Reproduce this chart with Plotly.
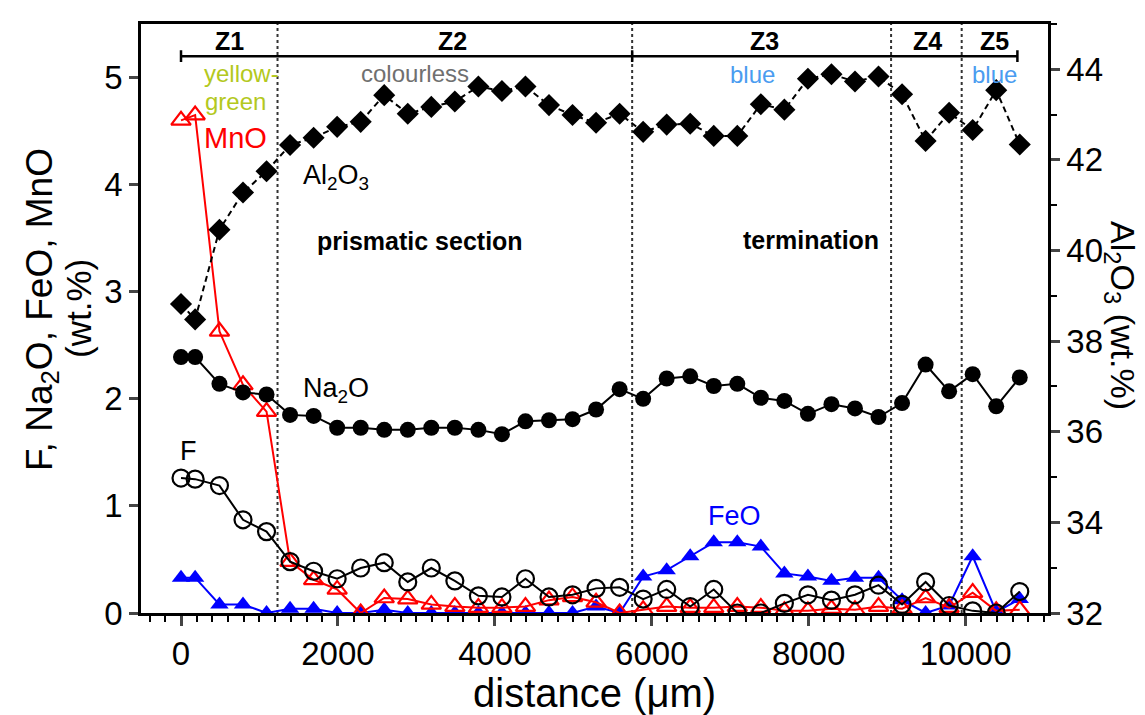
import plotly.graph_objects as go

# ---- data ----
distance = [0, 180, 490, 790, 1090, 1390, 1690, 1990, 2290, 2590, 2890, 3190, 3490,
            3790, 4090, 4390, 4690, 4990, 5290, 5590, 5890, 6190, 6490, 6790, 7090,
            7390, 7690, 7990, 8290, 8590, 8890, 9190, 9490, 9790, 10090, 10390, 10690]

na2o = [2.39, 2.39, 2.14, 2.06, 2.04, 1.85, 1.84, 1.73, 1.73, 1.71, 1.71, 1.73, 1.73,
        1.71, 1.67, 1.79, 1.80, 1.81, 1.90, 2.09, 2.00, 2.19, 2.21, 2.12, 2.14,
        2.01, 1.98, 1.86, 1.95, 1.91, 1.83, 1.96, 2.32, 2.07, 2.23, 1.93, 2.20]

al2o3 = [38.82, 38.48, 40.46, 41.28, 41.75, 42.33, 42.49, 42.73, 42.84, 43.43, 43.02, 43.17, 43.29,
         43.62, 43.52, 43.62, 43.21, 42.99, 42.82, 43.02, 42.62, 42.78, 42.80, 42.53, 42.53,
         43.23, 43.11, 43.79, 43.89, 43.73, 43.84, 43.45, 42.42, 43.04, 42.66, 43.54, 42.34]

mno = [4.60, 4.65, 2.63, 2.13, 1.88, 0.48, 0.31, 0.22, 0.00, 0.14, 0.13, 0.08, 0.06,
       0.05, 0.05, 0.06, 0.12, 0.15, 0.10, 0.00, 0.03, 0.06, 0.05, 0.05, 0.06,
       0.05, 0.02, 0.02, 0.04, 0.03, 0.06, 0.04, 0.14, 0.05, 0.19, 0.02, 0.03]

f_vals = [1.26, 1.25, 1.19, 0.87, 0.76, 0.48, 0.39, 0.32, 0.42, 0.47, 0.29, 0.42, 0.30,
          0.16, 0.15, 0.32, 0.15, 0.17, 0.23, 0.24, 0.13, 0.22, 0.06, 0.22, 0.00,
          0.00, 0.09, 0.17, 0.12, 0.17, 0.26, 0.08, 0.29, 0.07, 0.02, 0.00, 0.20]

feo = [0.33, 0.33, 0.08, 0.08, 0.00, 0.04, 0.04, 0.00, 0.00, 0.03, 0.00, 0.00, 0.00,
       0.00, 0.00, 0.00, 0.00, 0.00, 0.06, 0.00, 0.34, 0.40, 0.53, 0.66, 0.66,
       0.62, 0.37, 0.34, 0.30, 0.33, 0.33, 0.12, 0.00, 0.07, 0.53, 0.01, 0.13]

zone_bounds = [1230, 5750, 9050, 9950]
zone_bar = [0, 10660]
zone_bar_caps = [0, 5750, 10660]
zone_names = ["Z1", "Z2", "Z3", "Z4", "Z5"]
zone_centers = [620, 3465, 7440, 9515, 10370]

x_ticks = [0, 2000, 4000, 6000, 8000, 10000]
x_tick_labels = ["0", "2000", "4000", "6000", "8000", "10000"]
y_left_ticks = [0, 1, 2, 3, 4, 5]
y_right_ticks = [32, 34, 36, 38, 40, 42, 44]

FONT = "Liberation Sans, Arial, sans-serif"

fig = go.Figure()

fig.add_trace(go.Scatter(x=distance, y=feo, mode="lines+markers", name="FeO",
                         line=dict(color="#0000ff", width=2),
                         marker=dict(symbol="triangle-up", size=16, color="#0000ff")))
fig.add_trace(go.Scatter(x=distance, y=mno, mode="lines+markers", name="MnO",
                         line=dict(color="#ff0000", width=2),
                         marker=dict(symbol="triangle-up-open", size=17, color="#ff0000",
                                     line=dict(width=2.2, color="#ff0000"))))
fig.add_trace(go.Scatter(x=distance, y=f_vals, mode="lines+markers", name="F",
                         line=dict(color="black", width=2),
                         marker=dict(symbol="circle-open", size=17, color="black",
                                     line=dict(width=2.2, color="black"))))
fig.add_trace(go.Scatter(x=distance, y=na2o, mode="lines+markers", name="Na2O",
                         line=dict(color="black", width=2),
                         marker=dict(symbol="circle", size=16, color="black")))
fig.add_trace(go.Scatter(x=distance, y=al2o3, mode="lines+markers", name="Al2O3",
                         yaxis="y2",
                         line=dict(color="black", width=2, dash="6px,4px"),
                         marker=dict(symbol="diamond", size=17, color="black")))

shapes = []
for zb in zone_bounds:
    shapes.append(dict(type="line", xref="x", yref="paper", x0=zb, x1=zb, y0=0, y1=1,
                       line=dict(color="#333333", width=2, dash="dot"), layer="below"))
shapes.append(dict(type="line", xref="x", yref="y", x0=zone_bar[0], x1=zone_bar[1],
                   y0=5.2, y1=5.2, line=dict(color="black", width=2.5)))
for c in zone_bar_caps:
    shapes.append(dict(type="line", xref="x", yref="y", x0=c, x1=c, y0=5.145, y1=5.255,
                       line=dict(color="black", width=2.5)))

ann = []
for name, cx in zip(zone_names, zone_centers):
    ann.append(dict(x=cx, y=5.34, xref="x", yref="y", text="<b>%s</b>" % name, showarrow=False,
                    font=dict(family=FONT, size=25, color="black")))

def label(text, x, y, color="black", size=22, bold=False):
    t = "<b>%s</b>" % text if bold else text
    ann.append(dict(x=x, y=y, xref="x", yref="y", text=t, showarrow=False,
                    xanchor="center", yanchor="middle",
                    font=dict(family=FONT, size=size, color=color)))

label("yellow-", 765, 5.04, "#b3c820", 24)
label("green", 690, 4.78, "#b3c820", 24)
label("colourless", 2980, 5.04, "#707070", 24)
label("blue", 7290, 5.03, "#4a9cf0", 24)
label("blue", 10370, 5.03, "#4a9cf0", 24)
label("MnO", 700, 4.44, "#ff0000", 29)
label("Al<sub>2</sub>O<sub>3</sub>", 1975, 4.07, "black", 27)
label("Na<sub>2</sub>O", 1975, 2.08, "black", 27)
label("F", 90, 1.51, "black", 27)
label("FeO", 7057, 0.91, "#0000ff", 27)
label("prismatic section", 3045, 3.47, "black", 25, True)
label("termination", 8025, 3.48, "black", 25, True)

# axis titles (paper coords): plot area spans x 133..1040 px, y 16..605 px
ann.append(dict(x=-0.11, y=0.515, xref="paper", yref="paper", showarrow=False,
                xanchor="center", yanchor="middle",
                text="F, Na<sub>2</sub>O, FeO, MnO", textangle=-90,
                font=dict(family=FONT, size=37, color="black")))
ann.append(dict(x=-0.069, y=0.517, xref="paper", yref="paper", showarrow=False,
                xanchor="center", yanchor="middle",
                text="(wt.%)", textangle=-90,
                font=dict(family=FONT, size=35, color="black")))
ann.append(dict(x=1.08, y=0.505, xref="paper", yref="paper", showarrow=False,
                xanchor="center", yanchor="middle",
                text="Al<sub>2</sub>O<sub>3</sub> (wt.%)", textangle=90,
                font=dict(family=FONT, size=34, color="black")))
ann.append(dict(x=0.5, y=-0.136, xref="paper", yref="paper", showarrow=False,
                xanchor="center", yanchor="middle", text="distance (\u03bcm)",
                font=dict(family=FONT, size=40, color="black")))

fig.update_layout(
    width=1145, height=715,
    margin=dict(l=133, r=105, t=16, b=110),
    paper_bgcolor="white", plot_bgcolor="white",
    showlegend=False,
    font=dict(family=FONT, size=30, color="black"),
    shapes=shapes, annotations=ann,
    xaxis=dict(range=[-510, 11050], tickvals=x_ticks, ticktext=x_tick_labels,
               ticks="outside", ticklen=10,
               tickwidth=2.5, showline=True, linewidth=2.5, linecolor="black",
               mirror=True, showgrid=False, zeroline=False,
               tickfont=dict(family=FONT, size=33),
               minor=dict(dtick=200, tick0=0, ticks="outside", ticklen=6, tickwidth=2,
                          tickcolor="black", showgrid=False)),
    yaxis=dict(range=[0, 5.5], tickvals=y_left_ticks, ticks="outside", ticklen=9,
               tickwidth=2.5, showline=True, linewidth=2.5, linecolor="black",
               showgrid=False, zeroline=False, tickfont=dict(family=FONT, size=33)),
    yaxis2=dict(range=[32, 45], tickvals=y_right_ticks, overlaying="y", side="right",
                ticks="outside", ticklen=9, tickwidth=2.5, showline=True, linewidth=2.5,
                linecolor="black", showgrid=False, zeroline=False,
                tickfont=dict(family=FONT, size=33),
                minor=dict(dtick=1, tick0=32, ticks="outside", ticklen=6, tickwidth=2,
                           tickcolor="black", showgrid=False)),
)

fig.write_html("out.html")
